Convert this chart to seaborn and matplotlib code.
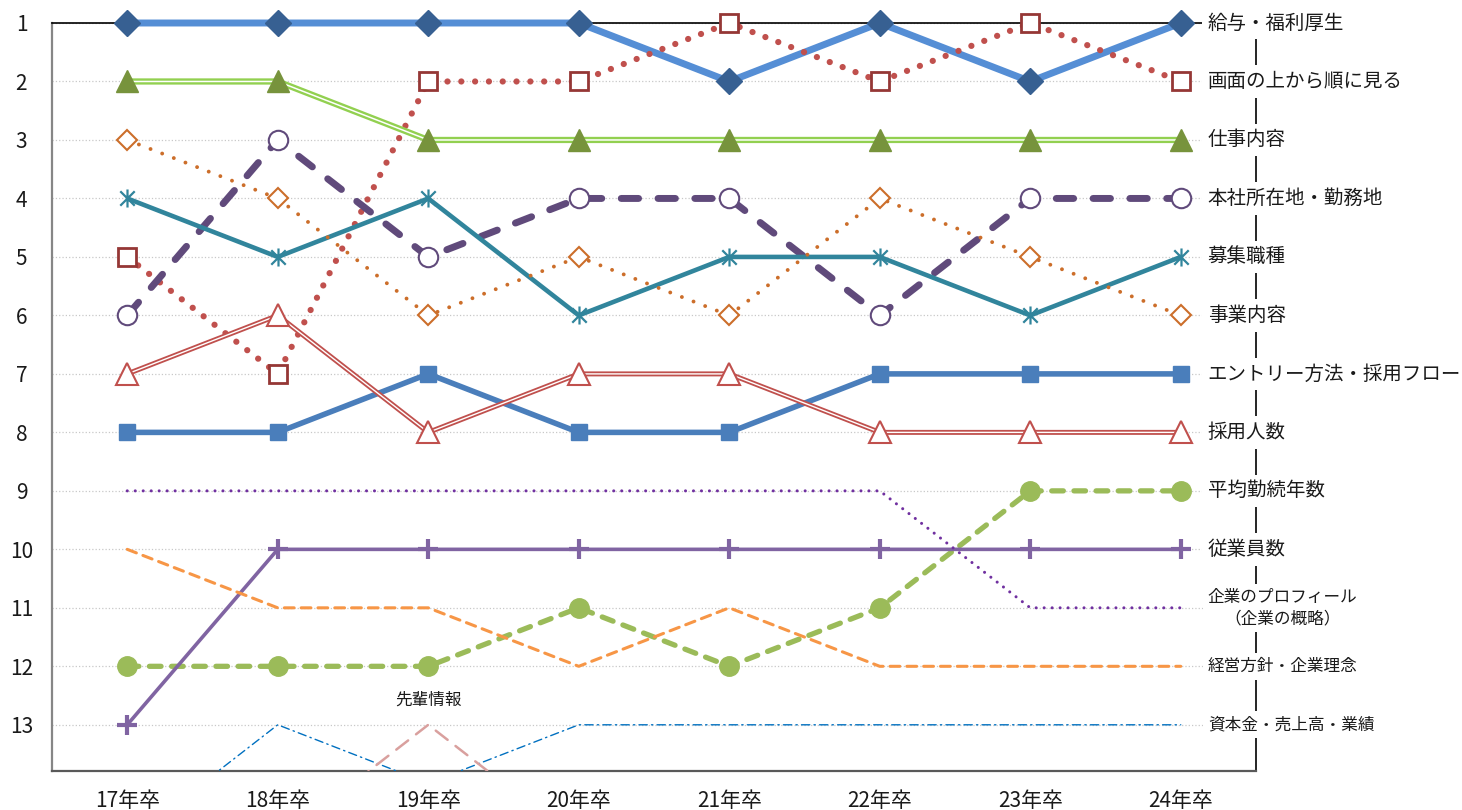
import matplotlib.pyplot as plt
from matplotlib.path import Path
import seaborn as sns

# 就活生が企業ページで重視する項目の順位推移
years = ["17年卒", "18年卒", "19年卒", "20年卒", "21年卒", "22年卒", "23年卒", "24年卒"]

salary = [1, 1, 1, 1, 2, 1, 2, 1]
top_down = [5, 7, 2, 2, 1, 2, 1, 2]
job_content = [2, 2, 3, 3, 3, 3, 3, 3]
location = [6, 3, 5, 4, 4, 6, 4, 4]
job_type = [4, 5, 4, 6, 5, 5, 6, 5]
business = [3, 4, 6, 5, 6, 4, 5, 6]
entry_flow = [8, 8, 7, 8, 8, 7, 7, 7]
hires = [7, 6, 8, 7, 7, 8, 8, 8]
tenure = [12, 12, 12, 11, 12, 11, 9, 9]
employees = [13, 10, 10, 10, 10, 10, 10, 10]
profile = [9, 9, 9, 9, 9, 9, 11, 11]
philosophy = [10, 11, 11, 12, 11, 12, 12, 12]
capital = [15, 13, 14, 13, 13, 13, 13, 13]
senpai = [15, 15, 13, 15, 15, 15, 15, 15]

items = ["給与・福利厚生", "画面の上から順に見る", "仕事内容", "本社所在地・勤務地",
         "募集職種", "事業内容", "エントリー方法・採用フロー", "採用人数",
         "平均勤続年数", "従業員数", "企業のプロフィール\n（企業の概略）",
         "経営方針・企業理念", "資本金・売上高・業績", "先輩情報"]
ranks = [salary, top_down, job_content, location, job_type, business, entry_flow,
         hires, tenure, employees, profile, philosophy, capital, senpai]

asterisk = Path([(-1, -1), (1, 1), (-1, 1), (1, -1), (0, -1.25), (0, 1.25)],
                [Path.MOVETO, Path.LINETO] * 3)

styles = [
    dict(color="#558ED5", lw=5, ls="-", marker="D", ms=13, mfc="#376092", mec="#376092"),
    dict(color="#C0504D", lw=4.5, ls=(0, (0.01, 2.2)), marker="s", ms=12.5, mfc="white",
         mec="#953735", mew=2),
    dict(color="#92D050", lw=4.5, ls="-", inner=1.1, marker="^", ms=16, mfc="#77933C",
         mec="#77933C"),
    dict(color="#604A7B", lw=5, ls=(0, (2.5, 2.8)), marker="o", ms=14, mfc="white",
         mec="#604A7B", mew=1.5),
    dict(color="#31859C", lw=3.3, ls="-", marker=asterisk, ms=13, mfc="none",
         mec="#31859C", mew=1.6),
    dict(color="#CC6E2A", lw=2.8, ls=(0, (0.01, 3.2)), marker="D", ms=10, mfc="white",
         mec="#CC6E2A", mew=1.5),
    dict(color="#4A7EBB", lw=4, ls="-", marker="s", ms=12, mfc="#4A7EBB", mec="#4A7EBB"),
    dict(color="#C0504D", lw=3.6, ls="-", inner=1.0, marker="^", ms=16, mfc="white",
         mec="#C0504D", mew=1.5),
    dict(color="#9BBB59", lw=3.8, ls=(0, (2.2, 2.0)), marker="o", ms=14, mfc="#9BBB59",
         mec="#9BBB59"),
    dict(color="#8064A2", lw=2.6, ls="-", marker="+", ms=14, mfc="#8064A2",
         mec="#8064A2", mew=3),
    dict(color="#7030A0", lw=2.2, ls=(0, (0.01, 2.6)), marker=None),
    dict(color="#F79646", lw=2.2, ls=(0, (3.2, 2.3)), marker=None),
    dict(color="#0070C0", lw=1.0, ls=(0, (6, 3, 1, 3)), marker=None),
    dict(color="#D9A09E", lw=1.8, ls=(0, (6, 4)), marker=None),
]
clipped = {"資本金・売上高・業績", "先輩情報"}

sns.set_theme(style="white")
plt.rcParams["font.family"] = ["Noto Sans CJK JP", "DejaVu Sans"]

fig = plt.figure(figsize=(14.62, 8.10), dpi=100)
ax = fig.add_axes([52 / 1462, 39 / 810, 1204 / 1462, 748 / 810])
xpos = list(range(len(years)))

for i, (name, vals, st) in enumerate(zip(items, ranks, styles)):
    clip = name in clipped
    z = 3 + i * 0.01
    sns.lineplot(x=xpos, y=vals, ax=ax, color=st["color"], linewidth=st["lw"],
                 linestyle=st["ls"], dash_capstyle="round", solid_capstyle="butt",
                 errorbar=None, clip_on=clip, zorder=z)
    if "inner" in st:
        sns.lineplot(x=xpos, y=vals, ax=ax, color="white", linewidth=st["inner"],
                     errorbar=None, clip_on=clip, zorder=z + 0.001)
    if st["marker"] is not None:
        sns.lineplot(x=xpos, y=vals, ax=ax, linestyle="none", marker=st["marker"],
                     markersize=st["ms"], markerfacecolor=st["mfc"],
                     markeredgecolor=st["mec"], markeredgewidth=st.get("mew", 1),
                     errorbar=None, clip_on=False, zorder=z + 0.002)

# 右側の項目ラベル
for name, vals in zip(items[:-1], ranks[:-1]):
    small = name.startswith(("企業", "経営", "資本"))
    ax.text(7.18, vals[-1], name, fontsize=12 if small else 14, ha="left", va="center",
            multialignment="center", linespacing=1.35, color="#1a1a1a", zorder=6,
            bbox=dict(boxstyle="square,pad=0.3", fc="white", ec="none"))

top_idx = senpai.index(min(senpai))
ax.text(top_idx, min(senpai) - 0.43, items[-1], fontsize=12, ha="center", va="center",
        color="#1a1a1a")

ax.set_xlim(-0.5, 7.5)
ax.set_ylim(13.79, 1)
ax.set_xticks(xpos, years)
ax.set_yticks(range(1, 14))
ax.tick_params(axis="x", length=0, pad=14, labelsize=15, colors="#1a1a1a")
ax.tick_params(axis="y", length=0, pad=22, labelsize=15, colors="#1a1a1a")
for t in ax.get_yticklabels():
    t.set_horizontalalignment("center")

ax.set_axisbelow(True)
ax.yaxis.grid(True, color="#C8C8C8", linestyle=":", linewidth=0.9)
ax.xaxis.grid(False)
ax.set_xlabel("")
ax.set_ylabel("")

ax.spines["left"].set_color("#868686")
ax.spines["left"].set_linewidth(1.6)
ax.spines["bottom"].set_color("#595959")
ax.spines["bottom"].set_linewidth(1.6)
ax.spines["top"].set_color("black")
ax.spines["top"].set_linewidth(1.2)
ax.spines["right"].set_color("black")
ax.spines["right"].set_linewidth(1.2)

fig.savefig("out.png", dpi=100)
